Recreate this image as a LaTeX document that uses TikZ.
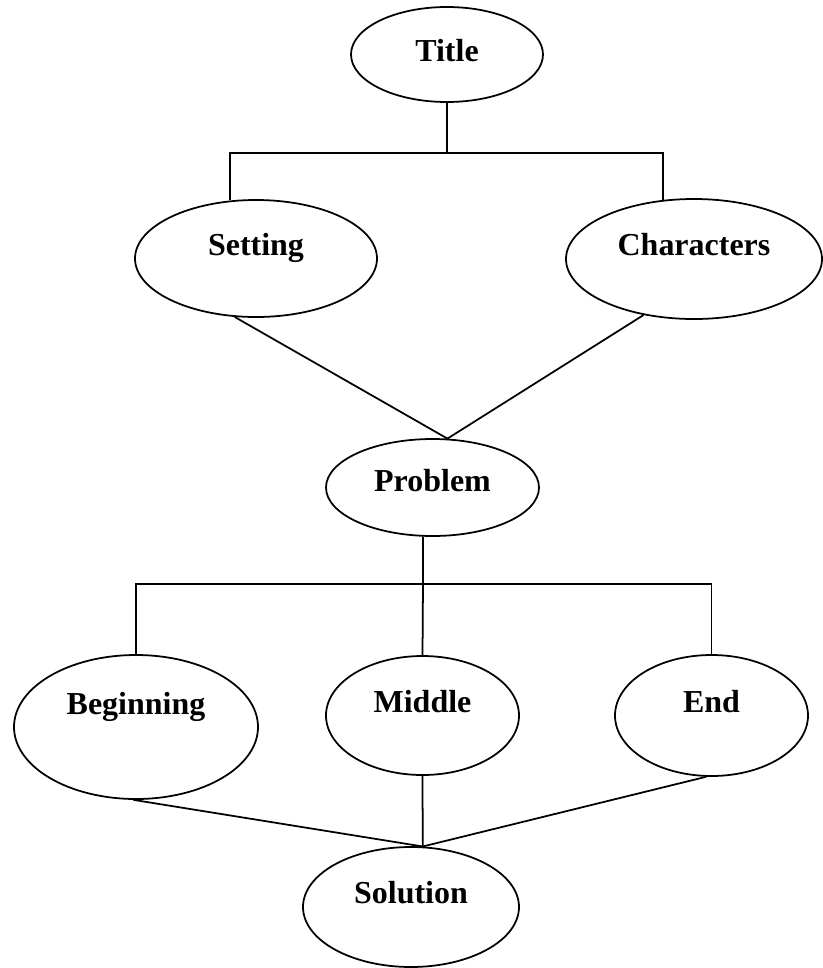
\documentclass[tikz,border=0pt]{standalone}
\usepackage{fontspec}
\setmainfont{Liberation Serif}
\usetikzlibrary{shapes.geometric}

\begin{document}
\begin{tikzpicture}[
      oval/.style={draw, ellipse, line width=1pt, inner sep=0pt, font=\bfseries\fontsize{18.2}{22}\selectfont, text height=0.448cm, text depth=0.58cm},
      link/.style={line width=1pt}]
    \useasboundingbox (0,0) rectangle (16.46,-19.36);
    \node[oval, minimum width=3.84cm, minimum height=1.90cm, text depth=0.15cm] (title) at (8.94,-1.09) {Title};
    \node[oval, minimum width=4.84cm, minimum height=2.34cm] (set) at (5.12,-5.17) {Setting};
    \node[oval, minimum width=5.12cm, minimum height=2.40cm] (char) at (13.88,-5.18) {Characters};
    \node[oval, minimum width=4.26cm, minimum height=1.94cm, text depth=0.27cm] (prob) at (8.65,-9.75) {Problem};
    \node[oval, minimum width=4.88cm, minimum height=2.88cm, text depth=0.93cm] (beg) at (2.72,-14.54) {Beginning};
    \node[oval, minimum width=3.86cm, minimum height=2.38cm] (mid) at (8.45,-14.31) {Middle};
    \node[oval, minimum width=3.86cm, minimum height=2.42cm] (end) at (14.23,-14.31) {End};
    \node[oval, minimum width=4.32cm, minimum height=2.40cm] (sol) at (8.22,-18.14) {Solution};
    \coordinate (bar1) at (8.94,-3.06);
    \coordinate (bar2) at (8.46,-11.68);
    \draw[link] (title) -- (bar1);
    \draw[link] (set.114) |- (bar1) -| (char.118);
    \draw[link] (set.250) -- (prob.73);
    \draw[link] (char.228) -- (prob.73);
    \draw[link] (prob.259) -- (bar2);
    \draw[link] (beg.north) |- (bar2) -| (end.north);
    \draw[link] (bar2) -- (mid.north);
    \draw[link] (beg.268) -- (sol.79);
    \draw[link] (mid.south) -- (sol.79);
    \draw[link] (end.265) -- (sol.79);
  \end{tikzpicture}
\end{document}
